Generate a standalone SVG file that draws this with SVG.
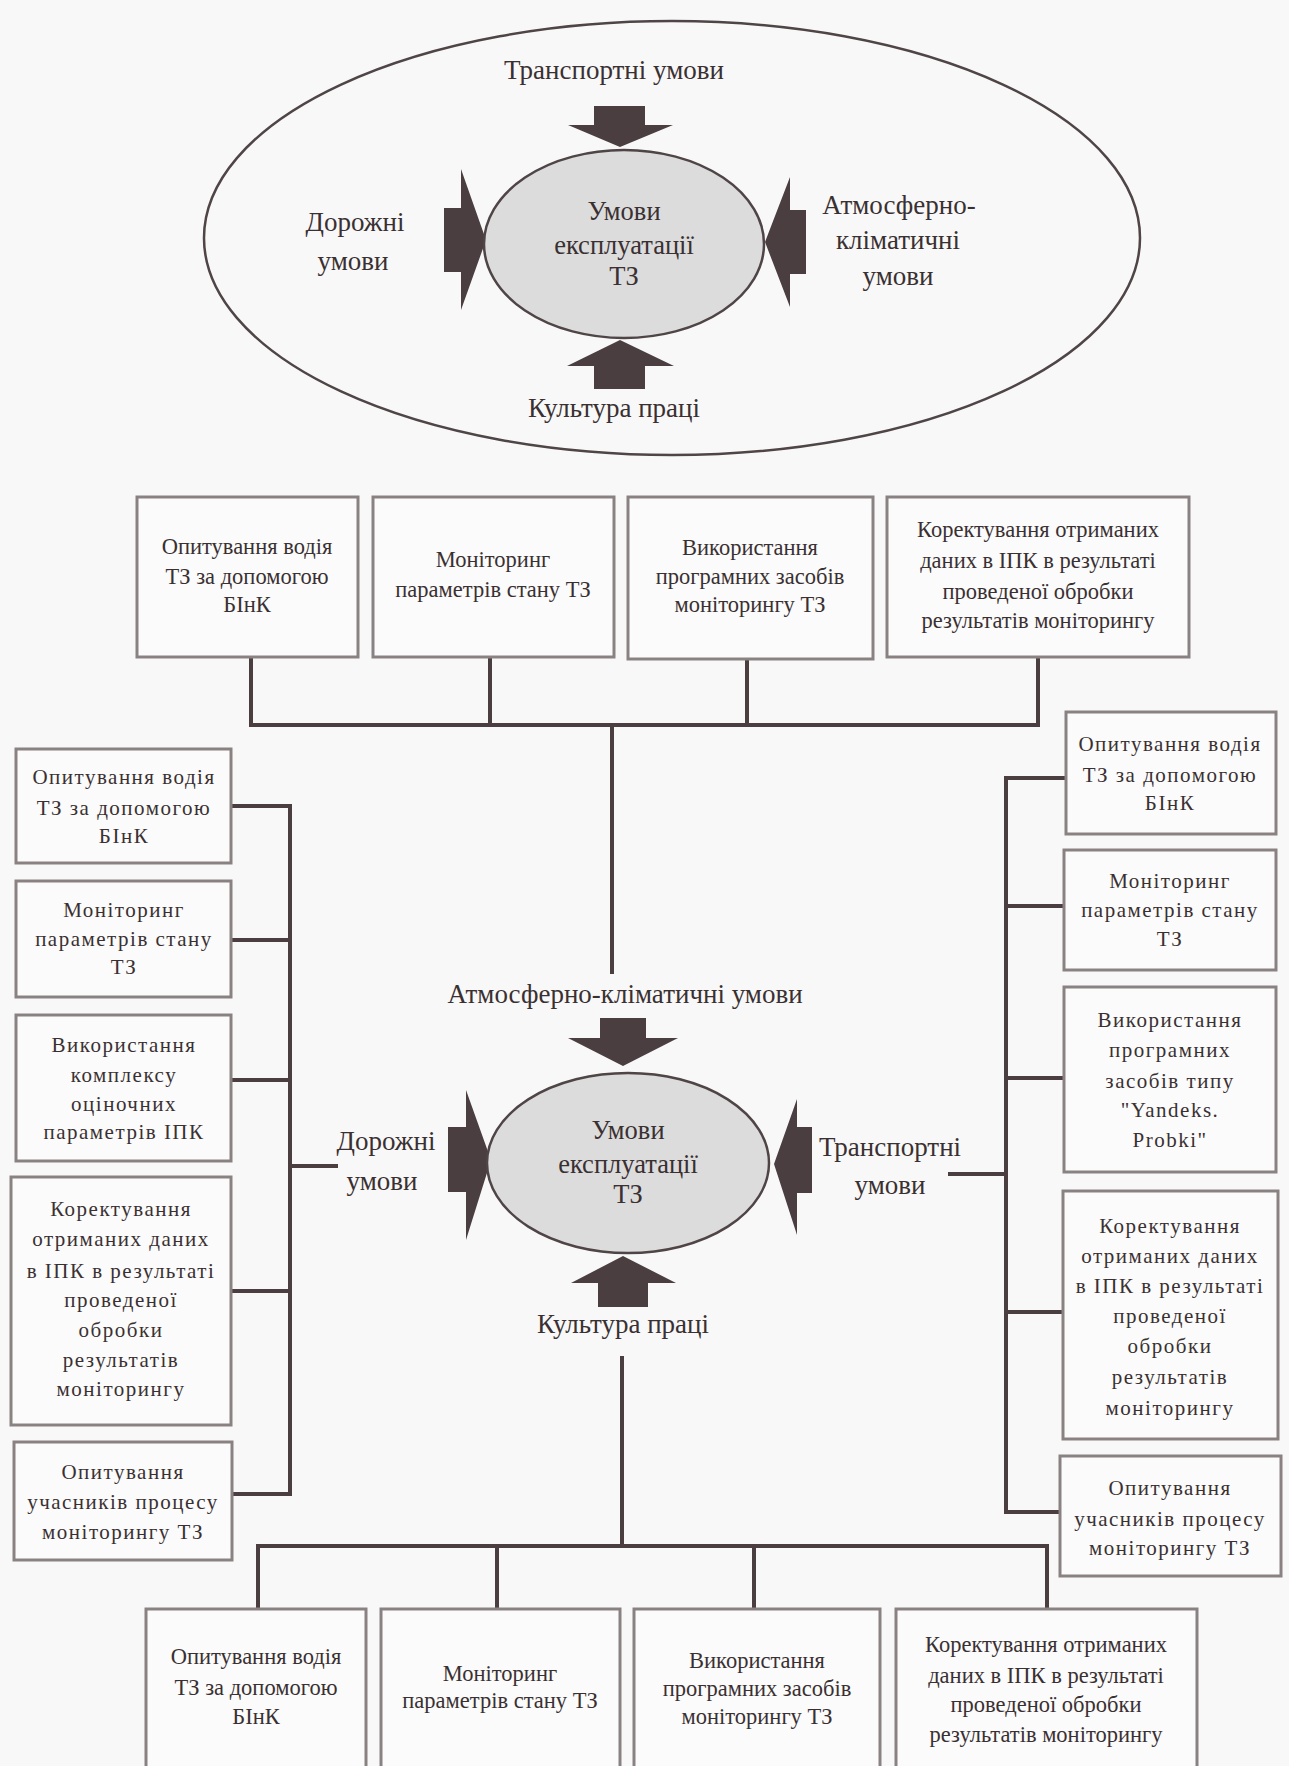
<svg xmlns="http://www.w3.org/2000/svg" width="1289" height="1766" viewBox="0 0 1289 1766">
<style>
.bg{fill:#f8f8f8}
.box{fill:#fbfbfb;stroke:#8a8282;stroke-width:3}
.ln{stroke:#4a3e40;stroke-width:4;fill:none;stroke-linecap:square}
.arr{fill:#4a3e40}
.core{fill:#dcdcdc;stroke:#4f4446;stroke-width:2.5}
.outer{fill:none;stroke:#4f4446;stroke-width:2.5}
text{fill:#3a3032;text-anchor:middle}
.t{font-family:"Liberation Serif",serif;font-size:22.5px}
.s{font-family:"Liberation Serif",serif;font-size:21px;letter-spacing:1.5px}
.L{font-family:"Liberation Serif",serif;font-size:27px}
.C{font-family:"Liberation Serif",serif;font-size:26.5px}
</style>
<rect class="bg" x="0" y="0" width="1289" height="1766"/>

<g id="top-diagram">
  <ellipse class="outer" cx="672" cy="238" rx="468" ry="217"/>
  <polygon class="arr" points="594,106 645,106 645,125 673,125 620,147 568,125 594,125"/>
  <polygon class="arr" points="444,208 461,208 461,169 486,240 461,310 461,272 444,272"/>
  <polygon class="arr" points="806,210 790,210 790,177 765,242 790,307 790,274 806,274"/>
  <polygon class="arr" points="620,340 674,366 645,366 645,389 594,389 594,366 567,366"/>
  <ellipse class="core" cx="624" cy="244" rx="140" ry="94"/>
  <text class="C" x="624" y="220">Умови</text>
  <text class="C" x="624" y="254">експлуатації</text>
  <text class="C" x="624" y="285">ТЗ</text>
  <text class="L" x="614" y="79">Транспортні умови</text>
  <text class="L" x="355" y="231">Дорожні</text>
  <text class="L" x="353" y="270">умови</text>
  <text class="L" x="899" y="214">Атмосферно-</text>
  <text class="L" x="898" y="249">кліматичні</text>
  <text class="L" x="898" y="285">умови</text>
  <text class="L" x="614" y="417">Культура праці</text>
</g>

<g id="connectors">
  <path class="ln" d="M251,657 V725 M490,657 V725 M747,659 V725 M1038,657 V725 M251,725 H1038 M612,725 V972"/>
  <path class="ln" d="M290,806 V1494 M231,806 H290 M231,940 H290 M231,1080 H290 M231,1291 H290 M231,1494 H290 M290,1166 H336"/>
  <path class="ln" d="M1006,778 V1512 M1006,778 H1065 M1006,906 H1065 M1006,1078 H1065 M1006,1312 H1065 M1006,1512 H1065 M950,1174 H1006"/>
  <path class="ln" d="M622,1358 V1546 M258,1546 H1047 M258,1546 V1609 M497,1546 V1609 M754,1546 V1609 M1047,1546 V1609"/>
</g>

<g id="center-diagram">
  <polygon class="arr" points="600,1018 646,1018 646,1038 678,1038 623,1066 568,1038 600,1038"/>
  <polygon class="arr" points="448,1127 466,1127 466,1090 491,1160 466,1240 466,1192 448,1192"/>
  <polygon class="arr" points="812,1127 797,1127 797,1099 774,1164 797,1235 797,1193 812,1193"/>
  <polygon class="arr" points="623,1256 676,1283 648,1283 648,1307 598,1307 598,1283 571,1283"/>
  <ellipse class="core" cx="628" cy="1163" rx="141" ry="90"/>
  <text class="C" x="628" y="1139">Умови</text>
  <text class="C" x="628" y="1173">експлуатації</text>
  <text class="C" x="628" y="1203">ТЗ</text>
  <text class="L" x="625" y="1003">Атмосферно-кліматичні умови</text>
  <text class="L" x="386" y="1150">Дорожні</text>
  <text class="L" x="382" y="1190">умови</text>
  <text class="L" x="890" y="1156">Транспортні</text>
  <text class="L" x="890" y="1194">умови</text>
  <text class="L" x="623" y="1333">Культура праці</text>
</g>

<g id="top-box-1"><rect class="box" x="137" y="497" width="221" height="160"/>
  <text class="t" x="247" y="554">Опитування водія</text><text class="t" x="247" y="584">ТЗ за допомогою</text><text class="t" x="247" y="612">БІнК</text></g>
<g id="top-box-2"><rect class="box" x="373" y="497" width="241" height="160"/>
  <text class="t" x="493" y="567">Моніторинг</text><text class="t" x="493" y="597">параметрів стану ТЗ</text></g>
<g id="top-box-3"><rect class="box" x="628" y="497" width="245" height="162"/>
  <text class="t" x="750" y="555">Використання</text><text class="t" x="750" y="584">програмних засобів</text><text class="t" x="750" y="612">моніторингу ТЗ</text></g>
<g id="top-box-4"><rect class="box" x="887" y="497" width="302" height="160"/>
  <text class="t" x="1038" y="537">Коректування отриманих</text><text class="t" x="1038" y="568">даних в ІПК в результаті</text><text class="t" x="1038" y="599">проведеної обробки</text><text class="t" x="1038" y="628">результатів моніторингу</text></g>

<g id="left-box-1"><rect class="box" x="16" y="749" width="215" height="114"/>
  <text class="s" x="124" y="784">Опитування водія</text><text class="s" x="124" y="815">ТЗ за допомогою</text><text class="s" x="124" y="843">БІнК</text></g>
<g id="left-box-2"><rect class="box" x="16" y="881" width="215" height="116"/>
  <text class="s" x="124" y="917">Моніторинг</text><text class="s" x="124" y="946">параметрів стану</text><text class="s" x="124" y="974">ТЗ</text></g>
<g id="left-box-3"><rect class="box" x="16" y="1015" width="215" height="146"/>
  <text class="s" x="124" y="1052">Використання</text><text class="s" x="124" y="1082">комплексу</text><text class="s" x="124" y="1111">оціночних</text><text class="s" x="124" y="1139">параметрів ІПК</text></g>
<g id="left-box-4"><rect class="box" x="11" y="1177" width="220" height="248"/>
  <text class="s" x="121" y="1216">Коректування</text><text class="s" x="121" y="1246">отриманих даних</text><text class="s" x="121" y="1278">в ІПК в результаті</text><text class="s" x="121" y="1307">проведеної</text><text class="s" x="121" y="1337">обробки</text><text class="s" x="121" y="1367">результатів</text><text class="s" x="121" y="1396">моніторингу</text></g>
<g id="left-box-5"><rect class="box" x="14" y="1442" width="218" height="118"/>
  <text class="s" x="123" y="1479">Опитування</text><text class="s" x="123" y="1509">учасників процесу</text><text class="s" x="123" y="1539">моніторингу ТЗ</text></g>

<g id="right-box-1"><rect class="box" x="1066" y="712" width="210" height="122"/>
  <text class="s" x="1170" y="751">Опитування водія</text><text class="s" x="1170" y="782">ТЗ за допомогою</text><text class="s" x="1170" y="810">БІнК</text></g>
<g id="right-box-2"><rect class="box" x="1064" y="850" width="212" height="120"/>
  <text class="s" x="1170" y="888">Моніторинг</text><text class="s" x="1170" y="917">параметрів стану</text><text class="s" x="1170" y="946">ТЗ</text></g>
<g id="right-box-3"><rect class="box" x="1064" y="987" width="212" height="185"/>
  <text class="s" x="1170" y="1027">Використання</text><text class="s" x="1170" y="1057">програмних</text><text class="s" x="1170" y="1088">засобів типу</text><text class="s" x="1170" y="1117">"Yandeks.</text><text class="s" x="1170" y="1147">Probki"</text></g>
<g id="right-box-4"><rect class="box" x="1063" y="1191" width="215" height="248"/>
  <text class="s" x="1170" y="1233">Коректування</text><text class="s" x="1170" y="1263">отриманих даних</text><text class="s" x="1170" y="1293">в ІПК в результаті</text><text class="s" x="1170" y="1323">проведеної</text><text class="s" x="1170" y="1353">обробки</text><text class="s" x="1170" y="1384">результатів</text><text class="s" x="1170" y="1415">моніторингу</text></g>
<g id="right-box-5"><rect class="box" x="1060" y="1456" width="221" height="120"/>
  <text class="s" x="1170" y="1495">Опитування</text><text class="s" x="1170" y="1526">учасників процесу</text><text class="s" x="1170" y="1555">моніторингу ТЗ</text></g>

<g id="bottom-box-1"><rect class="box" x="146" y="1609" width="220" height="170"/>
  <text class="t" x="256" y="1664">Опитування водія</text><text class="t" x="256" y="1695">ТЗ за допомогою</text><text class="t" x="256" y="1724">БІнК</text></g>
<g id="bottom-box-2"><rect class="box" x="381" y="1609" width="239" height="170"/>
  <text class="t" x="500" y="1681">Моніторинг</text><text class="t" x="500" y="1708">параметрів стану ТЗ</text></g>
<g id="bottom-box-3"><rect class="box" x="634" y="1609" width="246" height="170"/>
  <text class="t" x="757" y="1668">Використання</text><text class="t" x="757" y="1696">програмних засобів</text><text class="t" x="757" y="1724">моніторингу ТЗ</text></g>
<g id="bottom-box-4"><rect class="box" x="896" y="1609" width="301" height="170"/>
  <text class="t" x="1046" y="1652">Коректування отриманих</text><text class="t" x="1046" y="1683">даних в ІПК в результаті</text><text class="t" x="1046" y="1712">проведеної обробки</text><text class="t" x="1046" y="1742">результатів моніторингу</text></g>
</svg>
